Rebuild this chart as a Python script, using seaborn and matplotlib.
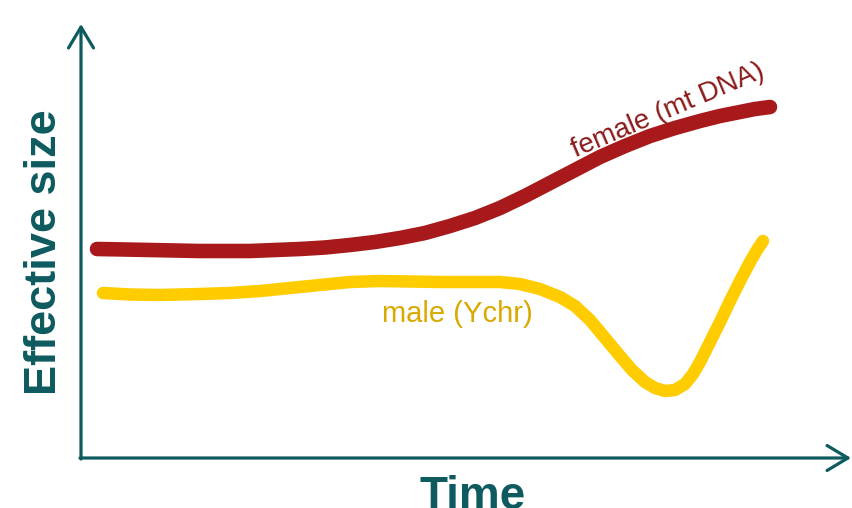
import numpy as np
import pandas as pd
import seaborn as sns
from matplotlib import pyplot as plt

# データ（画像から読み取った位置）
female_time = [97, 125, 150, 175, 200, 225, 250, 275, 300, 325, 350, 375, 400, 425,
               450, 475, 500, 525, 550, 575, 600, 625, 650, 675, 700, 720, 740, 755, 770]
female_size = [249, 249.5, 250, 250.5, 251, 251, 251, 250, 249, 247.5, 245, 242, 238, 233,
               226, 218, 208, 196, 183, 170, 157, 146, 136, 128, 121, 116, 112, 109, 107]

male_time = [103, 130, 160, 200, 230, 260, 290, 320, 350, 380, 410, 440, 470, 500,
             520, 540, 560, 575, 590, 605, 620, 632, 645, 655, 665, 675, 685, 693,
             700, 710, 720, 730, 740, 750, 757, 763]
male_size = [293, 294.5, 295, 294, 293, 291, 288, 285, 282, 281, 281.5, 282, 282, 282,
             284, 289, 297, 306, 320, 338, 356, 370, 382, 388, 391, 390, 384, 374,
             362, 342, 322, 301, 281, 262, 250, 241]

teal = "#0d5a5f"
red = "#a8191b"
yellow = "#ffcc00"

sns.set_style("white")
plt.rcParams["font.family"] = ["Liberation Sans", "DejaVu Sans"]

fig = plt.figure(figsize=(8.52, 5.08), dpi=100)
ax = fig.add_axes([0, 0, 1, 1])

female_df = pd.DataFrame({"time": female_time, "size": female_size})
male_df = pd.DataFrame({"time": male_time, "size": male_size})

sns.lineplot(data=female_df, x="time", y="size", color=red, linewidth=10.5,
             solid_capstyle="round", solid_joinstyle="round", ax=ax, sort=False)
sns.lineplot(data=male_df, x="time", y="size", color=yellow, linewidth=9,
             solid_capstyle="round", solid_joinstyle="round", ax=ax, sort=False)

ax.set_xlim(0, 852)
ax.set_ylim(508, 0)
ax.axis("off")

# 矢印の軸
arrow = dict(arrowstyle="->,head_length=1.5,head_width=0.9", color=teal, lw=2.3,
             shrinkA=0, shrinkB=0)
ax.annotate("", xy=(81, 24), xytext=(81, 459), arrowprops=arrow)
ax.annotate("", xy=(851, 458), xytext=(80, 458), arrowprops=arrow)

ax.text(473, 497, "Time", color=teal, fontsize=33, fontweight="bold",
        ha="center", va="center")
ax.text(45, 252, "Effective size", color=teal, fontsize=32.5, fontweight="bold",
        ha="center", va="center", rotation=90)

ax.text(668, 111, "female (mt DNA)", color="#8b1a1a", fontsize=20,
        ha="center", va="center", rotation=23)
ax.text(457, 314, "male (Ychr)", color="#d9a900", fontsize=21,
        ha="center", va="center")

plt.savefig("out.png", dpi=100)
